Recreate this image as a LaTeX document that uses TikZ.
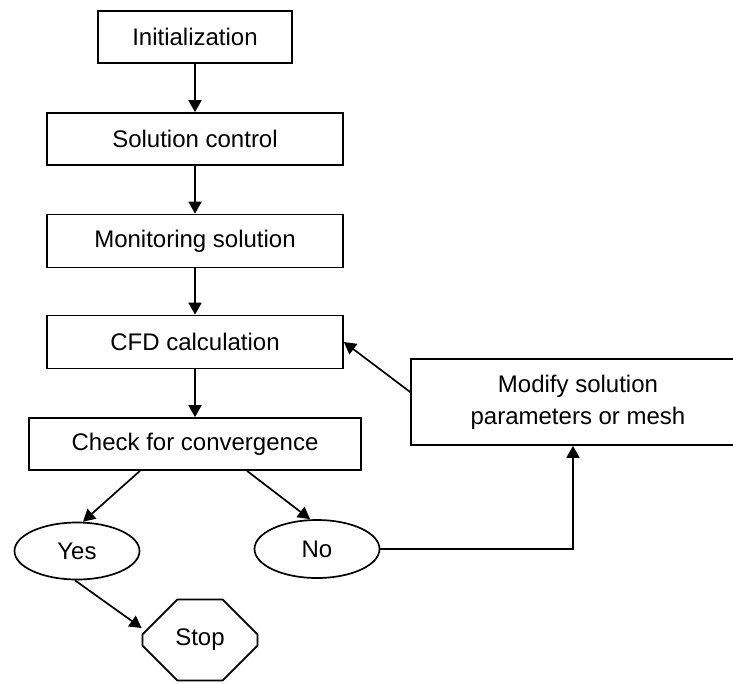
\documentclass[tikz,border=0pt]{standalone}
\usepackage{fontspec}
\setmainfont{Liberation Sans}
\usepackage{tikz}
\usetikzlibrary{positioning, arrows.meta, shapes.geometric, shapes.misc}

\begin{document}
\begin{tikzpicture}[x=1pt, y=-1pt, line width=1.7pt,
    font=\fontsize{24}{32}\selectfont,
    stepbox/.style={draw, rectangle, inner sep=0pt, minimum height=52pt},
    answer/.style={draw, ellipse, inner sep=0pt, minimum width=125pt, minimum height=57pt},
    flow/.style={-{Triangle[length=12pt, width=13pt]}}]
    \useasboundingbox (0,0) rectangle (733,683);

    % main column
    \node[stepbox, minimum width=194pt] (init) at (195,37) {Initialization};
    \node[stepbox, minimum width=296pt] (ctrl) at (195,139) {Solution control};
    \node[stepbox, minimum width=296pt, minimum height=53pt] (mon) at (195,241) {Monitoring solution};
    \node[stepbox, minimum width=296pt, minimum height=53pt] (cfd) at (195,342) {CFD calculation};
    \node[stepbox, minimum width=332pt] (check) at (195,444) {Check for convergence};

    % side box, runs past the right edge
    \node[stepbox, minimum width=334pt, minimum height=86pt, align=center] (modify) at (578,402)
        {Modify solution\\parameters or mesh};

    % outcomes
    \node[answer] (yes) at (77,551) {Yes};
    \node[answer, minimum height=58pt] (no) at (317,549) {No};
    \node[draw, chamfered rectangle, chamfered rectangle sep=24pt, inner sep=0pt,
          minimum width=115pt, minimum height=81pt] (stop) at (200,640) {Stop};

    \draw[flow] (init) -- (ctrl);
    \draw[flow] (ctrl) -- (mon);
    \draw[flow] (mon) -- (cfd);
    \draw[flow] (cfd) -- (check);
    \draw[flow] ([xshift=-55pt]check.south) -- ([xshift=6pt]yes.north);
    \draw[flow] ([xshift=52pt]check.south) -- ([xshift=-7pt]no.north);
    \draw[flow] ([xshift=-2pt]yes.south) -- ([yshift=12pt]stop.west);
    \draw[flow] (no.east) -| ([xshift=-5pt]modify.south);
    \draw[flow] ([yshift=10pt]modify.west) -- (cfd.east);
\end{tikzpicture}
\end{document}
